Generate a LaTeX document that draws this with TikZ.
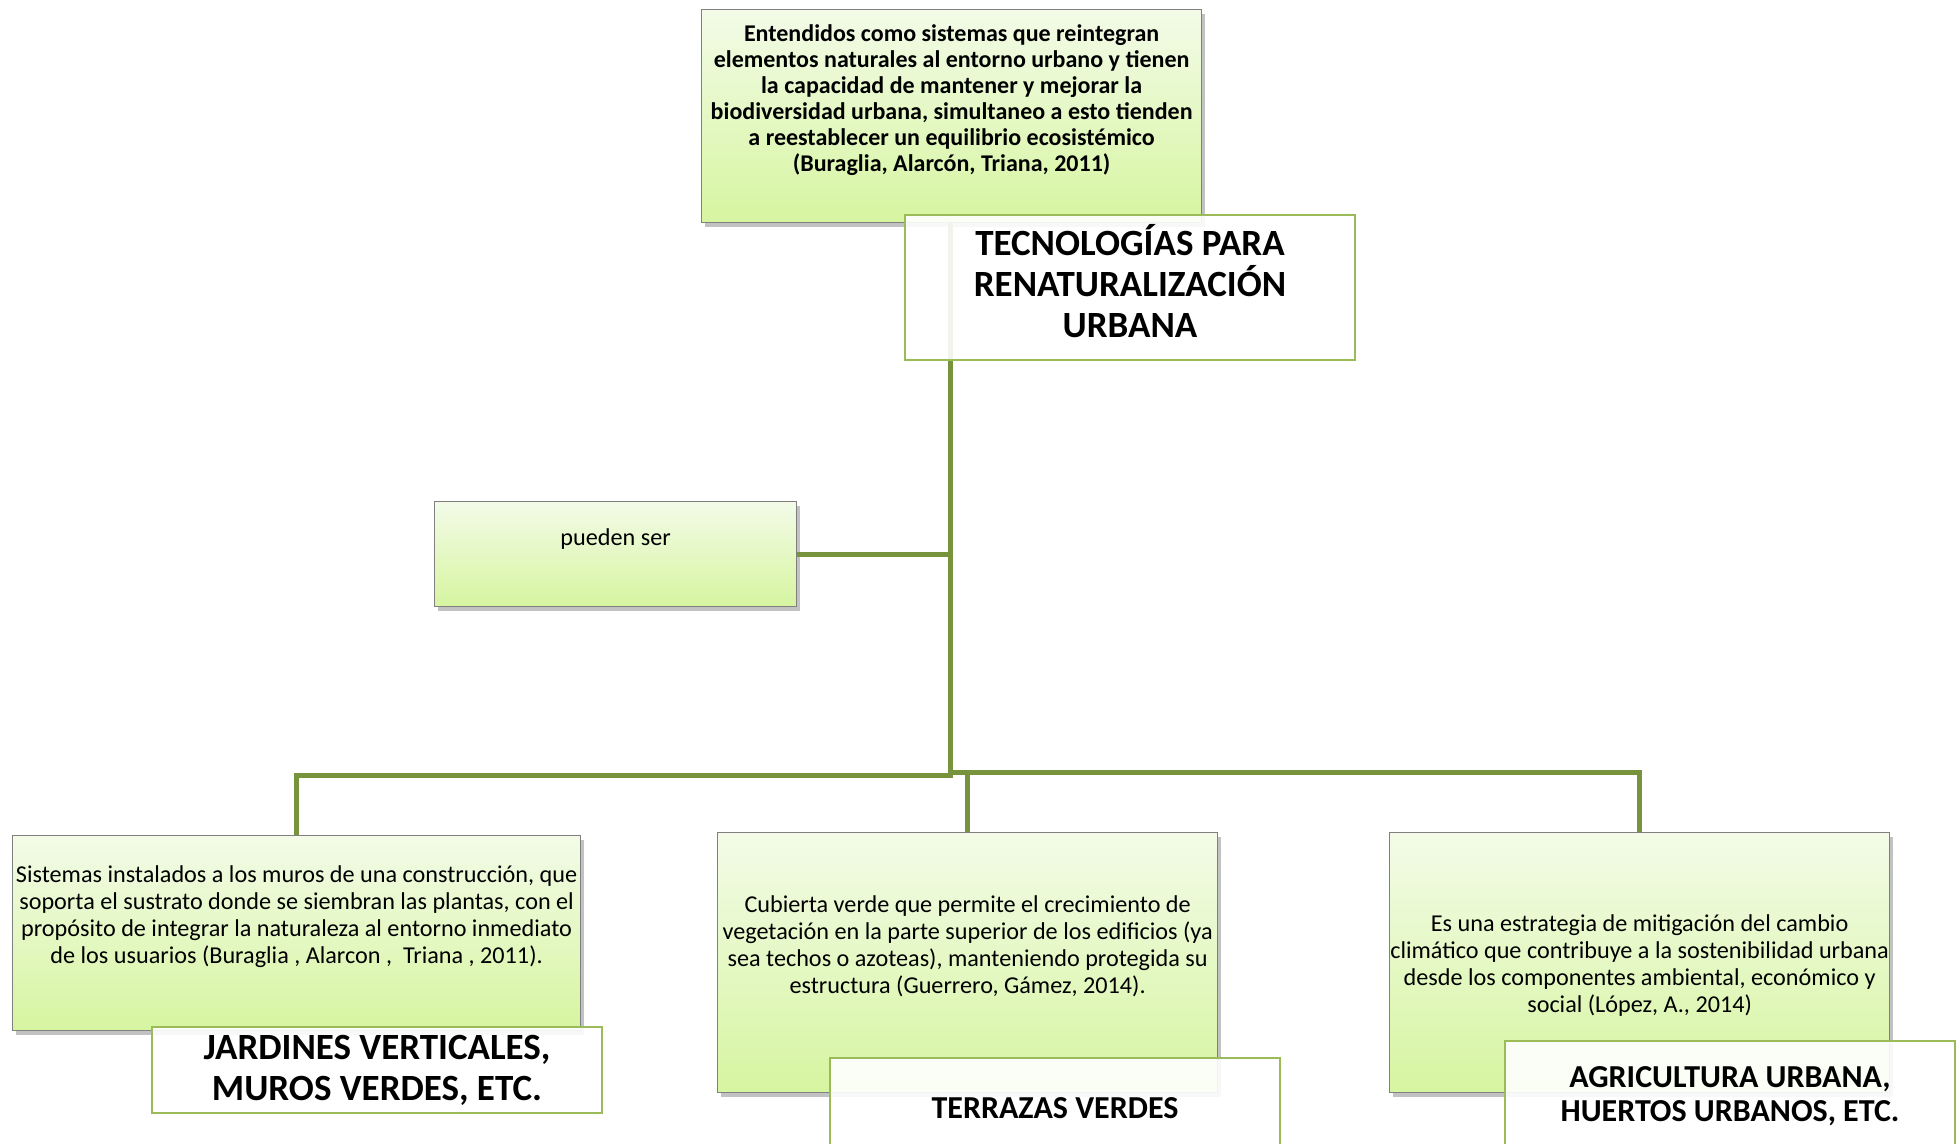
\documentclass[tikz,border=0pt]{standalone}
\usepackage{fontspec}
\setmainfont{Carlito}
\usetikzlibrary{shadows,calc}

\definecolor{linkgreen}{RGB}{119,147,60}
\definecolor{labelgreen}{RGB}{155,187,89}
\definecolor{boxtop}{RGB}{243,251,232}
\definecolor{boxbot}{RGB}{214,245,160}
\definecolor{boxedge}{RGB}{128,128,128}

\tikzset{
  notebox/.style={draw=boxedge, line width=1.2pt, top color=boxtop, bottom color=boxbot,
    drop shadow={shadow xshift=3pt, shadow yshift=-4pt, opacity=0.4, fill=black!60},
    inner sep=0pt, anchor=north west},
  namebox/.style={draw=labelgreen, line width=2pt, fill=white, fill opacity=0.9,
    text opacity=1, inner sep=0pt, anchor=north west, align=center,
    minimum width=450pt},
  conn/.style={draw=linkgreen, line width=5pt},
  bodytext/.style={font=\fontsize{24.2}{27}\selectfont, align=center, inner sep=0pt},
  deftext/.style={font=\bfseries\fontsize{24}{26}\selectfont, align=center, inner sep=0pt},
  titletext/.style={font=\bfseries\fontsize{37}{41}\selectfont, align=center, inner sep=0pt},
  labeltext/.style={font=\bfseries\fontsize{32}{34}\selectfont},
}

\begin{document}
\begin{tikzpicture}[x=1pt, y=-1pt]
\useasboundingbox (0,0) rectangle (1959,1143);

% junction points of the tree
\coordinate (hub) at (950,775);
\coordinate (hubR) at (952,772);

% green description boxes
\node[notebox, minimum width=500pt, minimum height=213pt] (defbox) at (701,9) {};
\node[notebox, minimum width=362pt, minimum height=105pt] (pueden) at (434,501) {};
\node[notebox, minimum width=568pt, minimum height=195pt] (b1) at (12,835) {};
\node[notebox, minimum width=500pt, minimum height=260pt] (b2) at (717,832) {};
\node[notebox, minimum width=500pt, minimum height=260pt] (b3) at (1389,832) {};

% connectors
\draw[conn] (defbox.south -| hub) -- (hub);
\draw[conn] (pueden.east) -- (pueden.east -| hub);
\draw[conn] (b1.north) |- ($(hub)+(2.5,0)$);
\draw[conn] ($(hubR)+(-2.5,0)$) -| (b3.north);
\draw[conn] (b2.north) -- (b2.north |- hubR);

% texts of the green boxes
\node[deftext] (deftxt) at ($(defbox.north)+(0,91)$) {Entendidos como sistemas que reintegran\\elementos naturales al entorno urbano y tienen\\la capacidad de mantener y mejorar la\\biodiversidad urbana, simultaneo a esto tienden\\a reestablecer un equilibrio ecosistémico\\(Buraglia, Alarcón, Triana, 2011)};
\node[bodytext] (puedentxt) at ($(pueden.north)+(0,38)$) {pueden ser};
\node[bodytext] (b1txt) at ($(b1.north)+(0,82)$) {Sistemas instalados a los muros de una construcción, que\\soporta el sustrato donde se siembran las plantas, con el\\propósito de integrar la naturaleza al entorno inmediato\\de los usuarios (Buraglia , Alarcon ,\ \ Triana , 2011).};
\node[bodytext] (b2txt) at ($(b2.north)+(0,114)$) {Cubierta verde que permite el crecimiento de\\vegetación en la parte superior de los edificios (ya\\sea techos o azoteas), manteniendo protegida su\\estructura (Guerrero, Gámez, 2014).};
\node[bodytext] (b3txt) at ($(b3.north)+(0,134)$) {Es una estrategia de mitigación del cambio\\climático que contribuye a la sostenibilidad urbana\\desde los componentes ambiental, económico y\\social (López, A., 2014)};

% white name boxes
\node[namebox, minimum height=145pt] (title) at (904,214) {};
\node[titletext] (titletxt) at ($(title.north)+(0,67.5)$) {TECNOLOGÍAS PARA\\RENATURALIZACIÓN\\URBANA};
\node[namebox, labeltext, font=\bfseries\fontsize{37}{41}\selectfont, minimum height=86pt] (l1) at (151,1026) {JARDINES VERTICALES,\\MUROS VERDES, ETC.};
\node[namebox, labeltext, minimum height=100pt] (l2) at (829,1057) {TERRAZAS VERDES};
\node[namebox, labeltext, minimum height=111pt] (l3) at (1504,1040) {AGRICULTURA URBANA,\\HUERTOS URBANOS, ETC.};
\end{tikzpicture}
\end{document}
